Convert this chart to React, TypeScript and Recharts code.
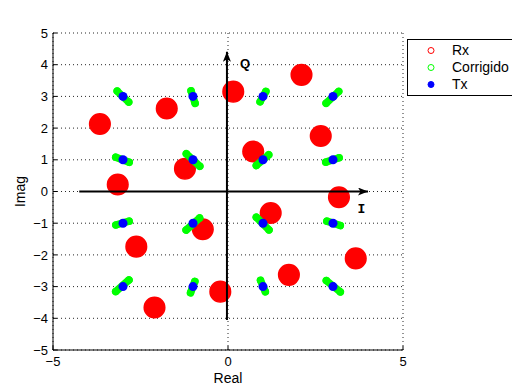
import React from "react";
import {
  CartesianGrid,
  Label,
  Legend,
  ReferenceDot,
  Scatter,
  ScatterChart,
  XAxis,
  YAxis
} from "recharts";

const FONT = "'Liberation Sans', Arial, Helvetica, sans-serif";

const xTicks = [-5, 0, 5];
const yTicks = [-5, -4, -3, -2, -1, 0, 1, 2, 3, 4, 5];

// transmitted 16-QAM symbols
const txI = [-3, -1, 1, 3, -3, -1, 1, 3, -3, -1, 1, 3, -3, -1, 1, 3];
const txQ = [3, 3, 3, 3, 1, 1, 1, 1, -1, -1, -1, -1, -3, -3, -3, -3];

// corrected clusters: ends of each elongated green cloud
const corrStartI = [-3.166, -1.056, 1.082, 3.163, -3.208, -1.191, 1.163, 3.176, -2.824, -0.811, 0.809, 2.824, -2.829, -0.947, 0.929, 2.809];
const corrStartQ = [3.167, 3.175, 3.158, 3.158, 1.083, 1.189, 1.158, 1.064, -0.936, -0.836, -0.811, -0.936, -2.789, -2.836, -2.803, -2.811];
const corrEndI = [-2.837, -0.94, 0.917, 2.803, -2.822, -0.806, 0.809, 2.792, -3.206, -1.197, 1.171, 3.208, -3.209, -1.071, 1.067, 3.209];
const corrEndQ = [2.82, 2.78, 2.832, 2.782, 0.922, 0.798, 0.82, 0.926, -1.057, -1.218, -1.211, -1.074, -3.158, -3.197, -3.164, -3.167];

// received (rotated) clusters, centre of each red cloud
const rxI = [-3.66, -3.15, -1.75, -1.23, 0.15, 0.72, 2.1, 2.65, 3.17, 1.22, 3.65, 1.74, -0.72, -2.62, -0.22, -2.1];
const rxQ = [2.13, 0.22, 2.62, 0.72, 3.15, 1.26, 3.68, 1.75, -0.18, -0.68, -2.11, -2.63, -1.19, -1.74, -3.16, -3.66];

// I / Q axis arrows
const arrowIx = [-4.25, 4.0];
const arrowIy = [0, 0];
const arrowQx = [-0.03, -0.03];
const arrowQy = [-4.05, 4.41];

const legendNames = ["Rx", "Corrigido", "Tx"];
const legendColors = ["#ff0000", "#00ff00", "#0000ff"];

const txData = txI.map((x, i) => ({ x, y: txQ[i] }));
const rxData = rxI.map((x, i) => ({ x, y: rxQ[i] }));
const corrData = corrStartI.map((x, i) => [
  { x, y: corrStartQ[i] },
  { x: corrEndI[i], y: corrEndQ[i] }
]);
const arrowI = arrowIx.map((x, i) => ({ x, y: arrowIy[i] }));
const arrowQ = arrowQx.map((x, i) => ({ x, y: arrowQy[i] }));

const minus = (v: number) => String(v).replace("-", "\u2212");

function segment(color: string, width: number, marker?: string) {
  return (lp: any) => {
    const pts = lp.points || [];
    if (pts.length < 2) return <g />;
    const d = `M${pts[0].x},${pts[0].y}L${pts[1].x},${pts[1].y}`;
    return (
      <path
        d={d}
        fill="none"
        stroke={color}
        strokeWidth={width}
        strokeLinecap={marker ? "butt" : "round"}
        markerEnd={marker}
      />
    );
  };
}

function LegendBox() {
  return (
    <div
      style={{
        border: "1px solid #000",
        background: "#fff",
        width: 104,
        height: 51,
        padding: "2px 0",
        fontFamily: FONT,
        fontSize: 14,
        color: "#000"
      }}
    >
      {legendNames.map((name, i) => (
        <div key={name} style={{ display: "flex", alignItems: "center", height: 17 }}>
          <svg width={16} height={17} style={{ marginLeft: 15, marginRight: 13 }}>
            <circle
              cx={8}
              cy={8.5}
              r={3}
              fill={i === 2 ? legendColors[i] : "none"}
              stroke={legendColors[i]}
            />
          </svg>
          <span style={{ lineHeight: "17px" }}>{name}</span>
        </div>
      ))}
    </div>
  );
}

export default function App() {
  const axisTick = { fontSize: 13, fill: "#000", fontFamily: FONT };

  return (
    <div style={{ position: "absolute", left: 0, top: 0, width: 512, height: 385, background: "#fff" }}>
      <svg width={0} height={0} style={{ position: "absolute" }}>
        <defs>
          <marker
            id="arrowHead"
            viewBox="0 0 10 8"
            refX={10}
            refY={4}
            markerWidth={10}
            markerHeight={8}
            markerUnits="userSpaceOnUse"
            orient="auto"
          >
            <path d="M0,0 L10,4 L0,8 L2.5,4 Z" fill="#000" />
          </marker>
        </defs>
      </svg>
      <ScatterChart width={512} height={385} margin={{ top: 33, right: 109, bottom: 0, left: 0 }}>
        <CartesianGrid stroke="#000" strokeDasharray="1 3" strokeOpacity={0.85} />
        <XAxis
          type="number"
          dataKey="x"
          domain={[-5, 5]}
          ticks={xTicks}
          height={35}
          tickSize={-4}
          tickMargin={11}
          tick={axisTick}
          tickFormatter={minus}
          stroke="#000"
          allowDataOverflow
        >
          <Label value="Real" position="insideBottom" offset={2.5} style={{ fontSize: 14, fill: "#000", fontFamily: FONT }} />
        </XAxis>
        <XAxis
          xAxisId="top"
          orientation="top"
          type="number"
          domain={[-5, 5]}
          ticks={xTicks}
          height={0}
          tickSize={-4}
          tickFormatter={() => ""}
          stroke="#000"
          allowDataOverflow
        >
          <Label
            value="Diagrama de Constelação"
            position="top"
            offset={11}
            style={{ fontSize: 14, fill: "#000", fontFamily: FONT }}
          />
        </XAxis>
        <YAxis
          type="number"
          dataKey="y"
          domain={[-5, 5]}
          ticks={yTicks}
          width={53}
          tickSize={-4}
          tickMargin={9}
          tick={axisTick}
          tickFormatter={minus}
          stroke="#000"
          allowDataOverflow
        >
          <Label
            content={({ viewBox }: any) => {
              const cy = viewBox.y + viewBox.height / 2;
              return (
                <text
                  x={25}
                  y={cy}
                  transform={`rotate(-90 25 ${cy})`}
                  textAnchor="middle"
                  fontSize={14}
                  fontFamily={FONT}
                  fill="#000"
                >
                  Imag
                </text>
              );
            }}
          />
        </YAxis>
        <YAxis
          yAxisId="right"
          orientation="right"
          type="number"
          domain={[-5, 5]}
          ticks={yTicks}
          width={0}
          tickSize={-4}
          tickFormatter={() => ""}
          stroke="#000"
          allowDataOverflow
        />

        <Scatter
          name="Rx"
          data={rxData}
          isAnimationActive={false}
          shape={(p: any) => (
            <circle cx={p.cx} cy={p.cy} r={10.3} fill="#ff0000" stroke="#ff0000" strokeWidth={1.5} />
          )}
        />
        {corrData.map((pts, i) => (
          <Scatter
            key={`corr-${i}`}
            name={`Corrigido ${i + 1}`}
            data={pts}
            isAnimationActive={false}
            line={segment("#00ff00", 7.5)}
            shape={(p: any) => <circle cx={p.cx} cy={p.cy} r={3.75} fill="#00ff00" />}
          />
        ))}
        <Scatter
          name="Tx"
          data={txData}
          isAnimationActive={false}
          shape={(p: any) => <circle cx={p.cx} cy={p.cy} r={4.5} fill="#0000ff" />}
        />
        <Scatter
          name="eixoI"
          data={arrowI}
          isAnimationActive={false}
          line={segment("#000", 2, "url(#arrowHead)")}
          shape={() => <g />}
        />
        <Scatter
          name="eixoQ"
          data={arrowQ}
          isAnimationActive={false}
          line={segment("#000", 2, "url(#arrowHead)")}
          shape={() => <g />}
        />
        <ReferenceDot
          x={0.34}
          y={4.05}
          r={0}
          shape={(p: any) => (
            <text x={p.cx} y={p.cy} dominantBaseline="central" fontSize={13} fontWeight="bold" fontFamily={FONT} fill="#000">
              Q
            </text>
          )}
        />
        <ReferenceDot
          x={3.81}
          y={-0.56}
          r={0}
          shape={(p: any) => (
            <text
              x={p.cx}
              y={p.cy}
              dominantBaseline="central"
              textAnchor="middle"
              fontSize={13}
              fontWeight="bold"
              fontFamily="'Liberation Mono', 'Courier New', monospace"
              fill="#000"
            >
              I
            </text>
          )}
        />
        <Legend
          layout="vertical"
          align="center"
          verticalAlign="middle"
          wrapperStyle={{ left: 407, top: 39, width: 106, height: 57 }}
          content={() => <LegendBox />}
        />
      </ScatterChart>
    </div>
  );
}
